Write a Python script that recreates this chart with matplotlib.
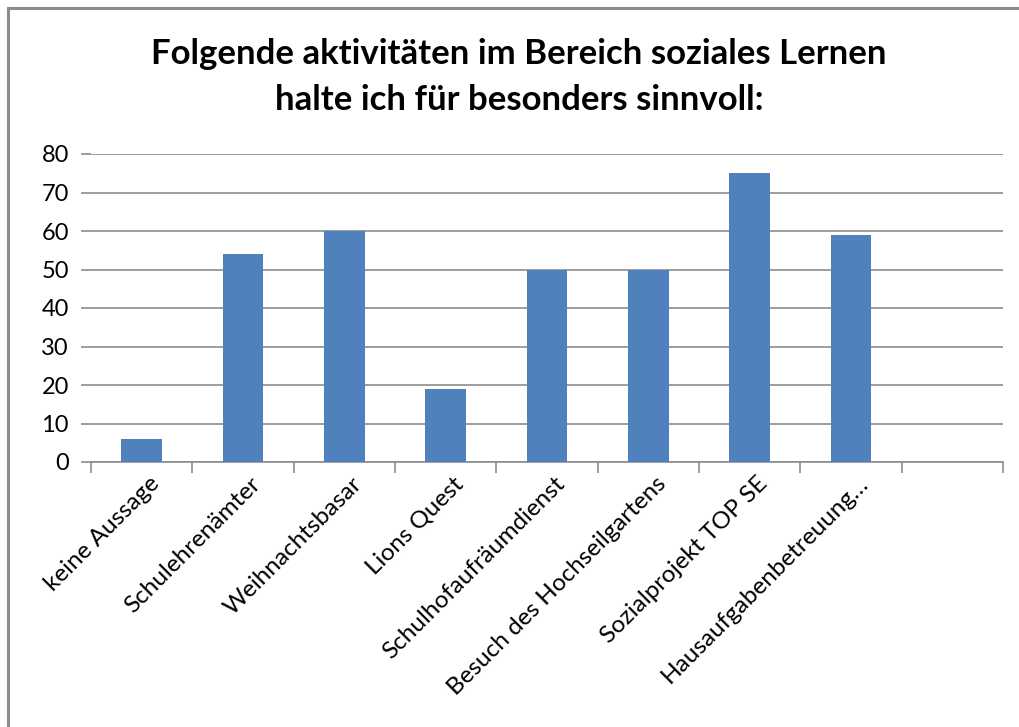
import matplotlib
matplotlib.use("Agg")
import matplotlib.pyplot as plt
from matplotlib.patches import Rectangle

categories = ["keine Aussage", "Schulehrenämter", "Weihnachtsbasar", "Lions Quest",
              "Schulhofaufräumdienst", "Besuch des Hochseilgartens",
              "Sozialprojekt TOP SE", "Hausaufgabenbetreuung…", ""]
values = [6, 54, 60, 19, 50, 50, 75, 59, 0]
yticks = [0, 10, 20, 30, 40, 50, 60, 70, 80]
title = "Folgende aktivitäten im Bereich soziales Lernen\nhalte ich für besonders sinnvoll:"

plt.rcParams['font.family'] = ['Lato', 'DejaVu Sans']

W, H = 1020, 727
fig = plt.figure(figsize=(W / 100, H / 100), dpi=100)
fig.patch.set_facecolor('white')

# outer chart border
fig.add_artist(Rectangle((8 / W, -0.05), 1.1, 1 - 8 / H + 0.05, transform=fig.transFigure,
                         fill=False, edgecolor='#8c8c8c', linewidth=2.2))

ax = fig.add_axes([91 / W, 1 - 462 / H, (1003 - 91) / W, (462 - 154) / H])
x = list(range(len(categories)))
ax.bar(x, values, width=0.4, color='#4F81BD', zorder=3)
ax.set_xlim(-0.5, len(categories) - 0.5)
ax.set_ylim(0, 80)
ax.set_yticks(yticks)
ax.set_yticklabels([str(v) for v in yticks], fontsize=17)
ax.grid(axis='y', color='#8c8c8c', linewidth=1.2, zorder=0)
ax.tick_params(axis='y', length=7, width=1.2, color='#8c8c8c', pad=9)

for s in ['left', 'top', 'right']:
    ax.spines[s].set_visible(False)
ax.spines['bottom'].set_color('#8c8c8c')
ax.spines['bottom'].set_linewidth(1.2)

# category boundary ticks
ax.set_xticks([i - 0.5 for i in range(len(categories) + 1)])
ax.set_xticklabels([])
ax.tick_params(axis='x', length=8, width=1.2, color='#8c8c8c')

for i, c in enumerate(categories):
    if c:
        ax.text(i + 0.14, -4.8, c, rotation=45, rotation_mode='anchor',
                ha='right', va='center', fontsize=17.5)

fig.text(519 / W, 1 - 77 / H, title, ha='center', va='center', fontsize=25,
         fontweight='bold', linespacing=1.52)

fig.savefig('out.png', dpi=100, facecolor='white')
